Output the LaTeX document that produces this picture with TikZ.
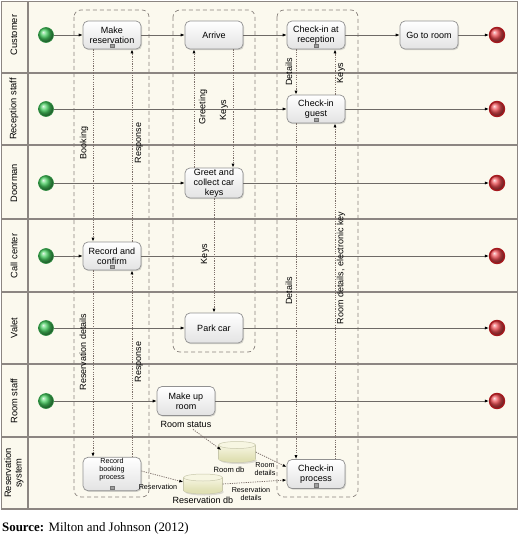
\documentclass[tikz,border=0pt]{standalone}
\usepackage{fontspec}
\setmainfont{Liberation Sans}
\newfontfamily\srcfont{Liberation Serif}
\usetikzlibrary{arrows.meta,shadows,calc}
\definecolor{lanebg}{RGB}{251,249,238}
\definecolor{laneln}{RGB}{140,134,130}
\definecolor{seqln}{RGB}{110,106,102}
\definecolor{msgln}{RGB}{125,112,106}
\definecolor{grpln}{RGB}{138,131,126}
\definecolor{taskbd}{RGB}{145,145,145}
\definecolor{startg}{RGB}{70,205,95}
\definecolor{startbd}{RGB}{40,140,60}
\definecolor{endr}{RGB}{235,75,80}
\definecolor{endbd}{RGB}{165,25,30}
\definecolor{dbtop}{RGB}{247,246,226}
\definecolor{dbbot}{RGB}{224,224,180}
\definecolor{dbbd}{RGB}{200,200,172}
\newcommand\dbcyl[4]{%
  \pgfmathsetmacro\dbl{#1-#3/2}\pgfmathsetmacro\dbr{#1+#3/2}%
  \pgfmathsetmacro\dbt{#2-#4/2+3.5}\pgfmathsetmacro\dbb{#2+#4/2-3.5}%
  \pgfmathsetlengthmacro\dbrx{#3/2}%
  \fill[black,opacity=0.12] (#1+1.5,\dbb+1.5) ellipse[x radius=\dbrx,y radius=3.5pt];
  \filldraw[fill=dbbot,draw=dbbd,line width=0.5pt] (#1,\dbb) ellipse[x radius=\dbrx,y radius=3.5pt];
  \shade[top color=dbtop,bottom color=dbbot] (\dbl,\dbt) rectangle (\dbr,\dbb);
  \draw[dbbd,line width=0.5pt] (\dbl,\dbt) -- (\dbl,\dbb) (\dbr,\dbt) -- (\dbr,\dbb);
  \filldraw[fill=dbtop,draw=dbbd,line width=0.5pt] (#1,\dbt) ellipse[x radius=\dbrx,y radius=3.5pt];
}
\tikzset{
 task/.style={draw=taskbd, line width=0.7pt, rounded corners=5pt, minimum width=58pt, minimum height=28pt, inner sep=0.5pt, align=center, top color=white, bottom color=black!11, drop shadow={opacity=0.3, shadow xshift=1pt, shadow yshift=-1.2pt}, font=\fontsize{9}{10}\selectfont},
 startev/.style={circle, minimum size=15pt, inner sep=0pt, draw=startbd, line width=0.6pt, shading=ball, ball color=startg},
 endev/.style={circle, minimum size=15pt, inner sep=0pt, draw=endbd, line width=1.4pt, shading=ball, ball color=endr},
 seq/.style={draw=seqln, line width=0.7pt, -{Latex[length=4pt,width=3.2pt,color=black]}},
 msg/.style={draw=msgln, line width=0.75pt, dash pattern=on 1.2pt off 1.1pt, -{Latex[length=4pt,width=3pt,color=black]}},
 grp/.style={draw=grpln, line width=0.7pt, dash pattern=on 4pt off 3pt, rounded corners=7pt},
 lbl/.style={font=\fontsize{9}{10}\selectfont, inner sep=1pt},
 vlbl/.style={lbl, rotate=90},
 lanelbl/.style={font=\fontsize{9.3}{10.5}\selectfont, inner sep=1pt, rotate=90, align=center},
 smalllbl/.style={font=\fontsize{7.2}{8.2}\selectfont, inner sep=0.5pt, align=center},
 marker/.style={draw=gray!90!black, fill=gray!75, minimum size=3.5pt, inner sep=0pt, line width=0.3pt},
}
\begin{document}
\begin{tikzpicture}[x=1pt,y=-1pt]
\useasboundingbox (0,0) rectangle (520,535);
% lanes
\fill[lanebg] (1.5,1.5) rectangle (517.5,509);
\foreach \yy in {73,145,219,292,364,437}
  \draw[laneln, line width=1.2pt] (1.5,\yy) -- (517.5,\yy);
\draw[laneln, line width=1.2pt] (28,1.5) -- (28,509);
\draw[laneln, line width=1.5pt] (1.5,1.5) rectangle (517.5,509);
% lane labels
\node[lanelbl] (l1) at (14,35) {Customer};
\node[lanelbl] (l2) at (14,109) {Reception staff};
\node[lanelbl] (l3) at (14,183) {Doorman};
\node[lanelbl] (l4) at (14,256) {Call center};
\node[lanelbl] (l5) at (14,328) {Valet};
\node[lanelbl] (l6) at (14,401) {Room staff};
\node[lanelbl] (l7) at (14,473) {Reservation\\system};
% groups
\draw[grp] (74,10) rectangle (149,497);
\draw[grp] (173,10) rectangle (255,352);
\draw[grp] (277,10) rectangle (358,497);
% events
\foreach \i/\yy in {1/35,2/109,3/183,4/256,5/328,6/401}{
  \node[startev] (s\i) at (46,\yy) {};
  \node[endev] (e\i) at (497,\yy) {};
}
% tasks
\node[task] (mr) at (112,35) {Make\\reservation};
\node[task] (ar) at (214,35) {Arrive};
\node[task] (cr) at (316,35) {Check-in at\\reception};
\node[task] (gr) at (429,35) {Go to room};
\node[task] (cg) at (316,109) {Check-in\\guest};
\node[task, minimum height=30pt] (gc) at (214,183) {Greet and\\collect car\\keys};
\node[task] (rc) at (112,256) {Record and\\confirm};
\node[task, minimum height=30pt] (pc) at (214,328) {Park car};
\node[task, minimum height=29pt] (mu) at (186,401) {Make up\\room};
\node[task, minimum height=30pt, font=\fontsize{7.2}{8.4}\selectfont] (rb) at (112,474) {Record\\booking\\process\\[2pt]};
\node[task, minimum height=29pt] (cp) at (316,474) {Check-in\\process};
\foreach \n in {mr,cr,cg,rc,rb,cp}
  \node[marker] (m\n) at ([yshift=3.5pt]\n.south) {};
% sequence flows
\draw[seq] (s1) -- (mr);
\draw[seq] (mr) -- (ar);
\draw[seq] (ar) -- (cr);
\draw[seq] (cr) -- (gr);
\draw[seq] (gr) -- (e1);
\draw[seq] (s2) -- (cg);
\draw[seq] (cg) -- (e2);
\draw[seq] (s3) -- (gc);
\draw[seq] (gc) -- (e3);
\draw[seq] (s4) -- (rc);
\draw[seq] (rc) -- (e4);
\draw[seq] (s5) -- (pc);
\draw[seq] (pc) -- (e5);
\draw[seq] (s6) -- (mu);
\draw[seq] (mu) -- (e6);
% message flows
\draw[msg] ([xshift=-19pt]mr.south) -- ([xshift=-19pt]rc.north);
\draw[msg] ([xshift=20pt]rc.north) -- ([xshift=20pt]mr.south);
\draw[msg] ([xshift=-19pt]rc.south) -- ([xshift=-19pt]rb.north);
\draw[msg] ([xshift=20pt]rb.north) -- ([xshift=20pt]rc.south);
\draw[msg] ([xshift=-20pt]gc.north) -- ([xshift=-20pt]ar.south);
\draw[msg] ([xshift=19pt]ar.south) -- ([xshift=19pt]gc.north);
\draw[msg] (gc.south) -- (pc.north);
\draw[msg] ([xshift=-20pt]cr.south) -- ([xshift=-20pt]cg.north);
\draw[msg] ([xshift=19pt]cg.north) -- ([xshift=19pt]cr.south);
\draw[msg] ([xshift=-20pt]cg.south) -- ([xshift=-20pt]cp.north);
\draw[msg] ([xshift=19pt]cp.north) -- ([xshift=19pt]cg.south);
% message labels
\node[vlbl] (t1) at (84,143) {Booking};
\node[vlbl] (t2) at (139,143) {Response};
\node[vlbl] (t3) at (83,352) {Reservation details};
\node[vlbl] (t4) at (139,362) {Response};
\node[vlbl] (t5) at (203,107) {Greeting};
\node[vlbl] (t6) at (224,110) {Keys};
\node[vlbl] (t7) at (205,254) {Keys};
\node[vlbl] (t8) at (289,72) {Details};
\node[vlbl] (t9) at (341,73) {Keys};
\node[vlbl] (t10) at (289,291) {Details};
\node[vlbl] (t11) at (341,268) {Room details, electronic key};
% databases
\dbcyl{237}{452}{37}{21}
\dbcyl{203}{484}{39}{20}
\node[minimum width=37pt, minimum height=21pt, inner sep=0pt] (roomdb) at (237,452) {};
\node[minimum width=39pt, minimum height=20pt, inner sep=0pt] (resdb) at (203,484) {};
\node[smalllbl, font=\fontsize{7.6}{8.5}\selectfont] (roomdbl) at (229,470) {Room db};
\node[lbl] (resdbl) at (203,500) {Reservation db};
\node[lbl] (rstat) at (186,424) {Room status};
\node[smalllbl] (rdet) at (265,469) {Room\\details};
\node[smalllbl] (resdet) at (251,494) {Reservation\\details};
\node[smalllbl] (resl) at (158,487) {Reservation};
% data associations
\draw[msg] ([xshift=7pt,yshift=-1pt]rstat.south) -- ($(roomdb.west)+(3,-2)$);
\draw[msg] (roomdb.east) -- ([yshift=7pt]cp.west);
\draw[msg] (resdb.east) -- ([yshift=-6pt]cp.west);
\draw[msg] ([yshift=3pt]rb.east) -- ([yshift=2pt]resdb.west);
% source
\node[anchor=base west, inner sep=0pt, font=\srcfont\fontsize{12.9}{14}\selectfont] (src) at (2,531) {\textbf{Source:} Milton and Johnson (2012)};
\end{tikzpicture}
\end{document}
